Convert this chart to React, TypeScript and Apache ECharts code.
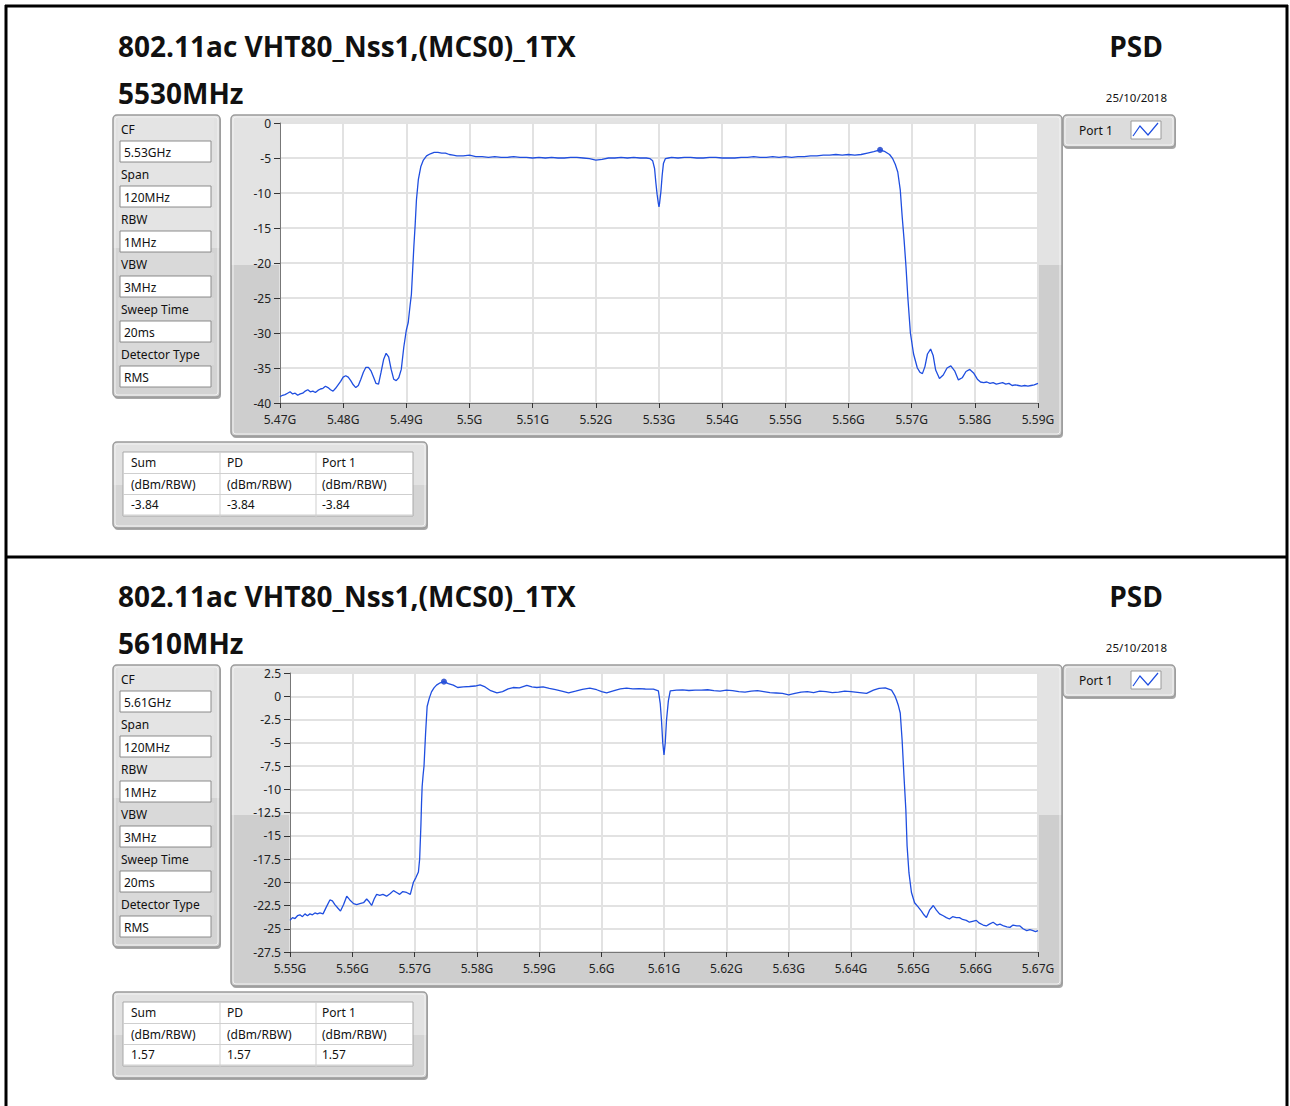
import React, { useEffect, useRef } from "react";
import * as echarts from "echarts";

const W = 1290;
const H = 1106;

const titleText = "802.11ac VHT80_Nss1,(MCS0)_1TX";
const psdText = "PSD";
const dateText = "25/10/2018";
const channelA = "5530MHz";
const channelB = "5610MHz";
const paramLabels = ["CF", "Span", "RBW", "VBW", "Sweep Time", "Detector Type"];
const paramValuesA = ["5.53GHz", "120MHz", "1MHz", "3MHz", "20ms", "RMS"];
const paramValuesB = ["5.61GHz", "120MHz", "1MHz", "3MHz", "20ms", "RMS"];
const tableHeaders = ["Sum", "PD", "Port 1"];
const tableUnits = ["(dBm/RBW)", "(dBm/RBW)", "(dBm/RBW)"];
const tableValuesA = ["-3.84", "-3.84", "-3.84"];
const tableValuesB = ["1.57", "1.57", "1.57"];
const legendName = "Port 1";

// Chart A: 5530 MHz (frequency in MHz, level in dBm/RBW)
const freqA = [
  5470.0, 5470.4, 5470.8, 5471.2, 5471.6, 5472.0, 5472.4, 5472.8, 5473.2, 5473.6,
  5474.0, 5474.4, 5474.8, 5475.2, 5475.6, 5476.0, 5476.4, 5476.8, 5477.2, 5477.6,
  5478.0, 5478.4, 5478.8, 5479.2, 5479.6, 5480.0, 5480.4, 5480.8, 5481.2, 5481.6,
  5482.0, 5482.4, 5482.8, 5483.2, 5483.6, 5484.0, 5484.4, 5484.8, 5485.2, 5485.6,
  5486.0, 5486.4, 5486.8, 5487.2, 5487.6, 5488.0, 5488.4, 5488.8, 5489.2, 5489.6,
  5490.0, 5490.3, 5490.6, 5490.8, 5491.0, 5491.2, 5491.4, 5491.6, 5491.9, 5492.3,
  5492.7, 5493.2, 5493.8, 5494.4, 5495.0, 5495.6, 5496.2, 5496.8, 5497.4, 5498.0,
  5499.0, 5500.0, 5501.0, 5502.0, 5503.0, 5504.0, 5505.0, 5506.0, 5507.0, 5508.0,
  5509.0, 5510.0, 5511.0, 5512.0, 5513.0, 5514.0, 5515.0, 5516.0, 5517.0, 5518.0,
  5519.0, 5520.0, 5521.0, 5522.0, 5523.0, 5524.0, 5525.0, 5526.0, 5527.0, 5528.0,
  5528.6, 5529.0, 5529.3, 5529.5, 5529.7, 5529.9, 5530.0, 5530.1, 5530.3, 5530.5,
  5530.7, 5531.0, 5531.5, 5532.0, 5533.0, 5534.0, 5535.0, 5536.0, 5537.0, 5538.0,
  5539.0, 5540.0, 5541.0, 5542.0, 5543.0, 5544.0, 5545.0, 5546.0, 5547.0, 5548.0,
  5549.0, 5550.0, 5551.0, 5552.0, 5553.0, 5554.0, 5555.0, 5556.0, 5557.0, 5558.0,
  5559.0, 5560.0, 5561.0, 5562.0, 5563.0, 5564.0, 5565.0, 5565.8, 5566.5, 5567.0,
  5567.4, 5567.8, 5568.2, 5568.5, 5568.8, 5569.1, 5569.4, 5569.8, 5570.3, 5570.9,
  5571.3, 5571.7, 5572.1, 5572.5, 5573.0, 5573.4, 5573.8, 5574.4, 5575.0, 5575.6,
  5576.2, 5576.8, 5577.4, 5578.0, 5578.6, 5579.2, 5579.8, 5580.4, 5580.9, 5581.4,
  5581.9, 5582.4, 5582.9, 5583.4, 5583.9, 5584.4, 5584.9, 5585.4, 5585.9, 5586.4,
  5586.9, 5587.4, 5587.9, 5588.4, 5588.9, 5589.4, 5590.0,
];
const levelA = [
  -39.1, -38.9, -38.8, -38.6, -38.4, -38.7, -38.6, -38.9, -38.7, -38.6,
  -38.3, -38.1, -38.4, -38.3, -38.5, -38.2, -38.0, -37.9, -37.6, -37.8,
  -38.1, -38.3, -37.9, -37.4, -36.9, -36.3, -36.1, -36.3, -36.8, -37.4,
  -37.8, -37.5, -36.6, -35.6, -34.9, -34.9, -35.4, -36.3, -37.2, -37.3,
  -35.6, -33.8, -32.9, -33.4, -35.2, -36.6, -36.8, -36.4, -35.2, -32.0,
  -29.6, -28.5, -26.0, -24.5, -21.0, -17.5, -14.5, -11.0, -8.1, -6.2,
  -5.3, -4.7, -4.4, -4.2, -4.2, -4.3, -4.3, -4.5, -4.6, -4.7,
  -4.7, -4.6, -4.8, -4.8, -4.9, -4.8, -4.9, -4.9, -4.8, -4.9,
  -4.9, -5.0, -4.9, -5.0, -4.9, -5.0, -5.0, -4.9, -4.9, -5.0,
  -5.1, -5.3, -5.2, -5.0, -5.0, -4.9, -5.0, -4.9, -5.0, -5.0,
  -5.1, -5.4, -6.5, -8.5, -10.2, -11.5, -12.0, -11.4, -9.8, -7.5,
  -5.8, -5.1, -5.0, -4.9, -5.0, -4.9, -4.9, -5.0, -5.0, -4.9,
  -4.9, -5.0, -5.0, -5.0, -4.9, -4.9, -4.8, -4.9, -4.9, -4.8,
  -4.9, -4.8, -4.9, -4.8, -4.8, -4.7, -4.7, -4.6, -4.6, -4.5,
  -4.6, -4.5, -4.6, -4.5, -4.3, -4.1, -3.84, -4.1, -4.5, -5.1,
  -5.9, -7.0, -9.6, -13.4, -16.7, -20.5, -25.0, -30.0, -33.0, -35.0,
  -35.6, -35.8, -34.8, -33.0, -32.3, -33.2, -35.3, -36.5, -36.0, -35.0,
  -34.7, -35.4, -36.7, -36.4, -35.5, -35.2, -35.7, -36.6, -37.0, -37.1,
  -37.0, -37.2, -37.1, -37.3, -37.2, -37.1, -37.3, -37.2, -37.5, -37.4,
  -37.5, -37.6, -37.5, -37.6, -37.5, -37.4, -37.2,
];
const peakA = [5565.0, -3.84];

// Chart B: 5610 MHz
const freqB = [
  5550.0, 5550.4, 5550.8, 5551.2, 5551.6, 5552.0, 5552.4, 5552.8, 5553.2, 5553.6,
  5554.0, 5554.4, 5554.8, 5555.3, 5555.8, 5556.4, 5556.8, 5557.2, 5557.7, 5558.1,
  5558.6, 5559.1, 5559.6, 5560.2, 5560.7, 5561.2, 5561.8, 5562.3, 5562.7, 5563.1,
  5563.5, 5563.9, 5564.4, 5564.9, 5565.5, 5566.1, 5566.6, 5567.1, 5567.6, 5568.1,
  5568.7, 5569.3, 5569.8, 5570.2, 5570.6, 5570.8, 5571.0, 5571.1, 5571.2, 5571.35,
  5571.5, 5571.75, 5572.0, 5572.35, 5572.7, 5573.1, 5573.5, 5574.1, 5574.7, 5575.4,
  5576.2, 5576.9, 5577.8, 5578.8, 5579.7, 5580.5, 5581.3, 5582.2, 5583.2, 5584.1,
  5585.0, 5585.8, 5586.8, 5588.0, 5588.8, 5589.6, 5590.6, 5591.6, 5592.6, 5593.6,
  5594.7, 5595.8, 5596.9, 5598.1, 5599.2, 5600.0, 5600.8, 5602.0, 5603.0, 5604.0,
  5605.0, 5606.0, 5607.0, 5608.3, 5609.1, 5609.4, 5609.6, 5609.8, 5610.0, 5610.2,
  5610.4, 5610.7, 5611.0, 5612.0, 5613.0, 5614.0, 5615.0, 5616.0, 5617.0, 5618.0,
  5619.0, 5620.0, 5621.0, 5622.0, 5623.0, 5624.0, 5625.0, 5626.0, 5627.0, 5628.0,
  5629.0, 5630.0, 5631.0, 5632.0, 5633.0, 5634.0, 5635.0, 5636.0, 5637.0, 5638.0,
  5639.0, 5640.0, 5641.4, 5642.5, 5643.6, 5644.5, 5645.5, 5646.5, 5647.0, 5647.3,
  5647.6, 5647.9, 5648.2, 5648.5, 5648.8, 5649.0, 5649.3, 5649.7, 5650.2, 5650.7,
  5651.3, 5651.7, 5652.1, 5652.6, 5653.2, 5653.7, 5654.2, 5654.8, 5655.3, 5655.8,
  5656.3, 5656.9, 5657.4, 5657.9, 5658.5, 5659.0, 5659.5, 5660.1, 5660.6, 5661.2,
  5661.7, 5662.2, 5662.8, 5663.4, 5663.9, 5664.5, 5665.0, 5665.5, 5666.0, 5666.6,
  5667.1, 5667.6, 5668.2, 5668.7, 5669.2, 5669.6, 5670.0,
];
const levelB = [
  -24.1, -23.8, -23.9, -23.6, -23.5, -23.7, -23.4, -23.6, -23.4, -23.5,
  -23.3, -23.4, -23.3, -23.4, -22.7, -21.9, -22.0, -22.4, -22.8, -23.1,
  -22.4, -21.5, -21.9, -22.3, -22.4, -22.3, -22.2, -21.8, -22.1, -22.5,
  -21.8, -21.3, -21.4, -21.3, -21.5, -21.2, -20.9, -21.1, -21.3, -21.0,
  -21.1, -21.3, -20.0, -19.5, -18.9, -17.5, -13.9, -11.5, -9.7, -8.5,
  -7.5, -4.0, -1.1, -0.2, 0.47, 0.9, 1.2, 1.45, 1.57, 1.35,
  1.2, 0.94, 1.0, 1.05, 1.1, 1.23, 1.0, 0.6, 0.36, 0.5,
  0.8, 0.94, 0.9, 1.16, 1.0, 0.94, 1.01, 0.85, 0.7, 0.55,
  0.36, 0.55, 0.75, 0.87, 0.7, 0.5, 0.36, 0.6, 0.8, 0.87,
  0.8, 0.82, 0.78, 0.76, 0.58, -0.8, -2.6, -5.0, -6.3, -5.0,
  -2.6, -0.5, 0.58, 0.65, 0.68, 0.62, 0.66, 0.65, 0.7, 0.6,
  0.55, 0.65, 0.6, 0.5, 0.45, 0.55, 0.6, 0.5, 0.4, 0.35,
  0.3, 0.15, 0.3, 0.45, 0.5, 0.4, 0.55, 0.5, 0.4, 0.45,
  0.55, 0.5, 0.4, 0.3, 0.65, 0.85, 0.9, 0.65, 0.1, -0.4,
  -1.0, -1.8, -4.7, -8.6, -12.2, -16.1, -19.0, -21.1, -22.2, -22.6,
  -23.1, -23.5, -23.8, -23.0, -22.5, -23.0, -23.4, -23.6, -23.8, -23.95,
  -23.7, -23.8, -23.8, -24.0, -24.1, -24.3, -24.2, -24.1, -24.4, -24.6,
  -24.7, -24.5, -24.3, -24.6, -24.5, -24.7, -24.8, -24.85, -24.6, -24.7,
  -24.7, -25.0, -25.2, -25.1, -25.2, -25.3, -25.2,
];
const peakB = [5574.7, 1.57];

const LINE_COLOR = "#1f4ee0";
const SMALL_FONT = "Noto Sans";
const BIG_FONT = "Open Sans";

function panelBg(x: number, y: number, w: number, h: number, split: number, light: string, dark: string) {
  return [
    {
      type: "rect",
      z: -3,
      shape: { x: x + 1, y: y + 2, width: w, height: h, r: 4 },
      style: { fill: "#a8a8a8" },
      silent: true,
    },
    {
      type: "rect",
      z: -3,
      shape: { x, y, width: w, height: h, r: 4 },
      style: {
        fill: {
          type: "linear",
          x: 0,
          y: 0,
          x2: 0,
          y2: 1,
          colorStops: [
            { offset: 0, color: light },
            { offset: split, color: light },
            { offset: split, color: dark },
            { offset: 1, color: dark },
          ],
        },
        stroke: "#9a9a9a",
        lineWidth: 1.5,
      },
      silent: true,
    },
    {
      type: "rect",
      z: -3,
      shape: { x: x + 2, y: y + 2, width: w - 4, height: h - 4, r: 3 },
      style: { fill: "none", stroke: "#f2f2f2", lineWidth: 1 },
      silent: true,
    },
  ];
}

function txt(x: number, y: number, text: string, size: number, opts: any = {}) {
  return {
    type: "text",
    z: 2,
    x,
    y,
    silent: true,
    style: {
      text,
      fill: opts.fill || "#111",
      fontSize: size,
      fontFamily: opts.family || SMALL_FONT,
      fontWeight: opts.weight || "normal",
      align: opts.align || "left",
      verticalAlign: "middle",
    },
  };
}

function section(dy: number, channel: string, params: string[], tableVals: string[]) {
  const els: any[] = [];
  els.push(txt(118, 46 + dy, titleText, 28, { family: BIG_FONT, weight: "bold" }));
  els.push(txt(118, 93 + dy, channel, 28, { family: BIG_FONT, weight: "bold" }));
  els.push(txt(1163, 46 + dy, psdText, 28, { family: BIG_FONT, weight: "bold", align: "right" }));
  els.push(txt(1167, 97 + dy, dateText, 11.5, { align: "right" }));

  // parameter panel
  els.push(...panelBg(113, 115 + dy, 107, 282, 0.47, "#e1e1e1", "#d3d3d3"));
  paramLabels.forEach((lab, i) => {
    const yy = dy + 45 * i;
    els.push({
      type: "rect",
      z: -2,
      silent: true,
      shape: { x: 118, y: 118 + yy, width: 96, height: 22 },
      style: { fill: i < 3 ? "#e4e4e4" : "#d9d9d9" },
    });
    els.push(txt(121, 129 + yy, lab, 12));
    els.push({
      type: "rect",
      z: -1,
      silent: true,
      shape: { x: 120, y: 141 + yy, width: 91, height: 21 },
      style: { fill: "#ffffff", stroke: "#8c8c8c", lineWidth: 1 },
    });
    els.push(txt(124, 152 + yy, params[i], 12));
  });

  // chart panel
  els.push(...panelBg(231, 115 + dy, 831, 321, 0.467, "#e3e3e3", "#cecece"));

  // legend
  els.push(...panelBg(1063, 115 + dy, 112, 32, 1, "#dcdcdc", "#dcdcdc"));
  els.push(txt(1079, 130 + dy, legendName, 12));
  els.push({
    type: "rect",
    z: -1,
    silent: true,
    shape: { x: 1131, y: 121 + dy, width: 30, height: 18 },
    style: { fill: "#ffffff", stroke: "#9a9a9a", lineWidth: 1 },
  });
  els.push({
    type: "polyline",
    z: 2,
    silent: true,
    shape: {
      points: [
        [1133, 136 + dy],
        [1140, 126 + dy],
        [1148, 135 + dy],
        [1158, 123 + dy],
      ],
    },
    style: { stroke: LINE_COLOR, lineWidth: 1.2, fill: "none" },
  });

  // table panel
  els.push(...panelBg(113, 442 + dy, 314, 86, 0.5, "#e2e2e2", "#d4d4d4"));
  els.push({
    type: "rect",
    z: -1,
    silent: true,
    shape: { x: 123, y: 452 + dy, width: 290, height: 64 },
    style: { fill: "#ffffff", stroke: "#a8a8a8", lineWidth: 1 },
  });
  [473.5, 494.5, 515].forEach((ly) =>
    els.push({
      type: "line",
      z: 0,
      silent: true,
      shape: { x1: 123, y1: ly + dy, x2: 413, y2: ly + dy },
      style: { stroke: "#cfcfcf", lineWidth: 1 },
    })
  );
  [220, 316].forEach((lx) =>
    els.push({
      type: "line",
      z: 0,
      silent: true,
      shape: { x1: lx, y1: 452 + dy, x2: lx, y2: 518 + dy },
      style: { stroke: "#cfcfcf", lineWidth: 1 },
    })
  );
  const colX = [131, 227, 322];
  colX.forEach((cx, i) => {
    els.push(txt(cx, 462.5 + dy, tableHeaders[i], 12));
    els.push(txt(cx, 484 + dy, tableUnits[i], 12));
    els.push(txt(cx, 504 + dy, tableVals[i], 12));
  });
  return els;
}

function xAxisCfg(gridIndex: number, min: number, max: number) {
  return {
    type: "value",
    gridIndex,
    min,
    max,
    interval: 10,
    axisLine: { show: true, onZero: false, lineStyle: { color: "#777", width: 1 } },
    axisTick: { show: true, length: 5, lineStyle: { color: "#333" } },
    axisLabel: {
      color: "#222",
      fontSize: 12,
      fontFamily: SMALL_FONT,
      margin: 10,
      formatter: (v: number) => parseFloat((v / 1000).toFixed(3)) + "G",
    },
    splitLine: { show: true, lineStyle: { color: "#e2e2e2", width: 2 } },
  };
}

function yAxisCfg(gridIndex: number, min: number, max: number, interval: number) {
  return {
    type: "value",
    gridIndex,
    min,
    max,
    interval,
    axisLine: { show: true, onZero: false, lineStyle: { color: "#777", width: 1 } },
    axisTick: { show: true, length: 6, lineStyle: { color: "#333" } },
    axisLabel: { color: "#222", fontSize: 12, fontFamily: SMALL_FONT, margin: 9 },
    splitLine: { show: true, lineStyle: { color: "#e2e2e2", width: 2 } },
  };
}

export default function App() {
  const ref = useRef<HTMLDivElement>(null);
  useEffect(() => {
    if (!ref.current) return;
    const chart = echarts.init(ref.current, undefined, { renderer: "svg", width: W, height: H });
    const frame = [
      { x1: 6, y1: 5, x2: 6, y2: H },
      { x1: 1287, y1: 5, x2: 1287, y2: H },
      { x1: 5, y1: 6, x2: 1288, y2: 6 },
      { x1: 5, y1: 557, x2: 1288, y2: 557 },
    ].map((s) => ({
      type: "line",
      z: 3,
      silent: true,
      shape: s,
      style: { stroke: "#000", lineWidth: 3 },
    }));
    const option: any = {
      animation: false,
      backgroundColor: "#ffffff",
      grid: [
        { left: 280, top: 123, width: 758, height: 280, show: true, backgroundColor: "#ffffff", borderWidth: 0 },
        { left: 290, top: 673, width: 748, height: 279, show: true, backgroundColor: "#ffffff", borderWidth: 0 },
      ],
      xAxis: [xAxisCfg(0, 5470, 5590), xAxisCfg(1, 5550, 5670)],
      yAxis: [yAxisCfg(0, -40, 0, 5), yAxisCfg(1, -27.5, 2.5, 2.5)],
      graphic: {
        elements: [
          ...section(0, channelA, paramValuesA, tableValuesA),
          ...section(550, channelB, paramValuesB, tableValuesB),
          ...frame,
        ],
      },
      series: [
        {
          type: "line",
          xAxisIndex: 0,
          yAxisIndex: 0,
          data: freqA.map((f, i) => [f, levelA[i]]),
          showSymbol: false,
          silent: true,
          lineStyle: { color: LINE_COLOR, width: 1.3 },
          itemStyle: { color: LINE_COLOR },
        },
        {
          type: "scatter",
          xAxisIndex: 0,
          yAxisIndex: 0,
          data: [peakA],
          symbolSize: 6,
          silent: true,
          itemStyle: { color: "#1238c8" },
        },
        {
          type: "line",
          xAxisIndex: 1,
          yAxisIndex: 1,
          data: freqB.map((f, i) => [f, levelB[i]]),
          showSymbol: false,
          silent: true,
          lineStyle: { color: LINE_COLOR, width: 1.3 },
          itemStyle: { color: LINE_COLOR },
        },
        {
          type: "scatter",
          xAxisIndex: 1,
          yAxisIndex: 1,
          data: [peakB],
          symbolSize: 6,
          silent: true,
          itemStyle: { color: "#1238c8" },
        },
      ],
    };
    chart.setOption(option);
    return () => chart.dispose();
  }, []);
  return (
    <div
      ref={ref}
      style={{ position: "absolute", left: 0, top: 0, width: W, height: H, background: "#fff" }}
    />
  );
}
